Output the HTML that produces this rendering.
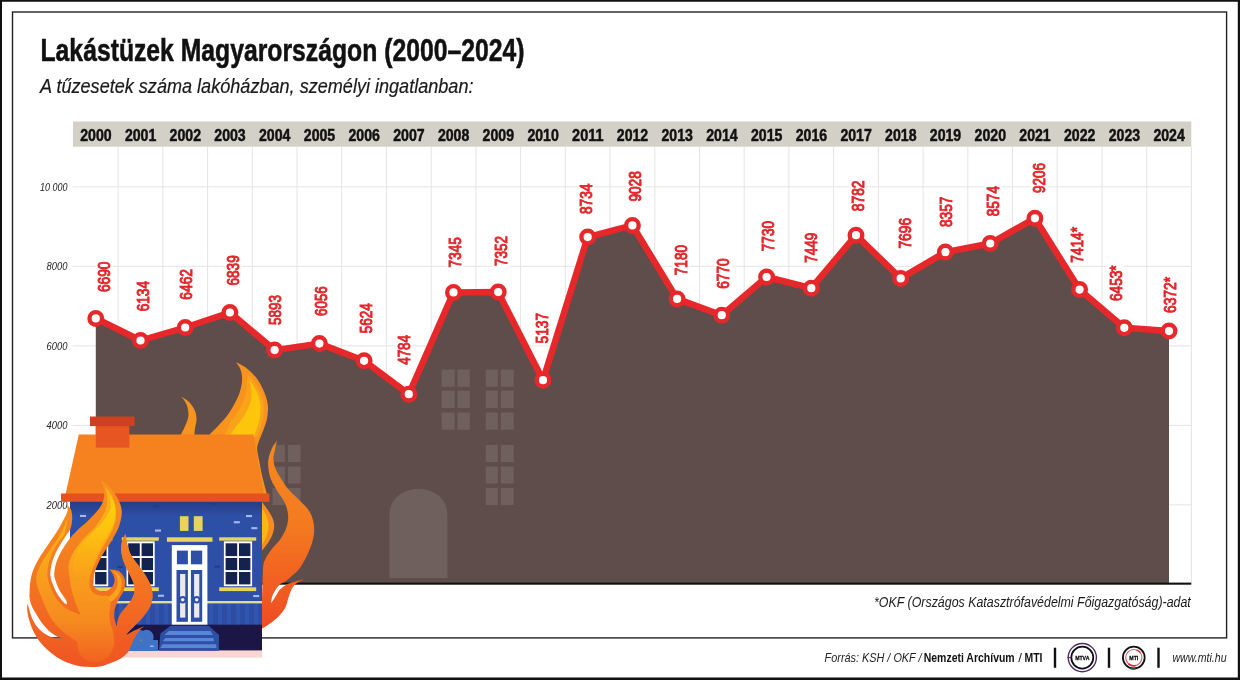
<!DOCTYPE html>
<html lang="hu">
<head>
<meta charset="utf-8">
<title>Lakástüzek Magyarországon (2000–2024)</title>
<style>
html,body{margin:0;padding:0;background:#fff;}
body{width:1240px;height:680px;overflow:hidden;font-family:"Liberation Sans",Arial,Helvetica,sans-serif;}
svg{display:block;}
text{font-family:"Liberation Sans",Arial,Helvetica,sans-serif;}
</style>
</head>
<body>
<svg width="1240" height="680" viewBox="0 0 1240 680">
<rect x="0" y="0" width="1240" height="680" fill="#fff"/>
<!-- frames -->
<path d="M0,0H1240V680H0Z M2,1.8V677.6H1237.8V1.8Z" fill="#111" fill-rule="evenodd"/>
<rect x="12.5" y="12" width="1214.1" height="625.9" fill="none" stroke="#222" stroke-width="1.4"/>

<text x="40.5" y="60.6" font-size="31.5" font-weight="700" fill="#111" stroke="#111" stroke-width="0.55" textLength="484" lengthAdjust="spacingAndGlyphs">Lakástüzek Magyarországon (2000–2024)</text>
<text x="40" y="93" font-size="20" font-style="italic" fill="#1a1a1a" stroke="#1a1a1a" stroke-width="0.2" textLength="433.5" lengthAdjust="spacingAndGlyphs">A tűzesetek száma lakóházban, személyi ingatlanban:</text>
<rect x="73" y="121.5" width="1118.3" height="25.2" fill="#d3d0c8"/>
<g stroke="#e4e4e4" stroke-width="1" fill="none">
<line x1="118.1" y1="147" x2="118.1" y2="583"/>
<line x1="162.8" y1="147" x2="162.8" y2="583"/>
<line x1="207.6" y1="147" x2="207.6" y2="583"/>
<line x1="252.3" y1="147" x2="252.3" y2="583"/>
<line x1="297.0" y1="147" x2="297.0" y2="583"/>
<line x1="341.7" y1="147" x2="341.7" y2="583"/>
<line x1="386.4" y1="147" x2="386.4" y2="583"/>
<line x1="431.2" y1="147" x2="431.2" y2="583"/>
<line x1="475.9" y1="147" x2="475.9" y2="583"/>
<line x1="520.6" y1="147" x2="520.6" y2="583"/>
<line x1="565.3" y1="147" x2="565.3" y2="583"/>
<line x1="610.0" y1="147" x2="610.0" y2="583"/>
<line x1="654.8" y1="147" x2="654.8" y2="583"/>
<line x1="699.5" y1="147" x2="699.5" y2="583"/>
<line x1="744.2" y1="147" x2="744.2" y2="583"/>
<line x1="788.9" y1="147" x2="788.9" y2="583"/>
<line x1="833.6" y1="147" x2="833.6" y2="583"/>
<line x1="878.4" y1="147" x2="878.4" y2="583"/>
<line x1="923.1" y1="147" x2="923.1" y2="583"/>
<line x1="967.8" y1="147" x2="967.8" y2="583"/>
<line x1="1012.5" y1="147" x2="1012.5" y2="583"/>
<line x1="1057.2" y1="147" x2="1057.2" y2="583"/>
<line x1="1102.0" y1="147" x2="1102.0" y2="583"/>
<line x1="1146.7" y1="147" x2="1146.7" y2="583"/>
<line x1="1191.4" y1="147" x2="1191.4" y2="583"/>
<line x1="72.5" y1="504.9" x2="1191.5" y2="504.9"/>
<line x1="72.5" y1="425.4" x2="1191.5" y2="425.4"/>
<line x1="72.5" y1="345.9" x2="1191.5" y2="345.9"/>
<line x1="72.5" y1="266.3" x2="1191.5" y2="266.3"/>
<line x1="72.5" y1="186.8" x2="1191.5" y2="186.8"/>
</g>
<text x="46.6" y="508.8" font-size="11.2" font-style="italic" fill="#222" textLength="20.8" lengthAdjust="spacingAndGlyphs">2000</text>
<text x="46.6" y="429.3" font-size="11.2" font-style="italic" fill="#222" textLength="20.8" lengthAdjust="spacingAndGlyphs">4000</text>
<text x="46.6" y="349.8" font-size="11.2" font-style="italic" fill="#222" textLength="20.8" lengthAdjust="spacingAndGlyphs">6000</text>
<text x="46.6" y="270.2" font-size="11.2" font-style="italic" fill="#222" textLength="20.8" lengthAdjust="spacingAndGlyphs">8000</text>
<text x="40.0" y="190.7" font-size="11.2" font-style="italic" fill="#222" textLength="27.4" lengthAdjust="spacingAndGlyphs">10 000</text>
<text x="80.2" y="141" font-size="16.6" font-weight="700" fill="#111" stroke="#111" stroke-width="0.5" textLength="31.4" lengthAdjust="spacingAndGlyphs">2000</text>
<text x="124.9" y="141" font-size="16.6" font-weight="700" fill="#111" stroke="#111" stroke-width="0.5" textLength="31.4" lengthAdjust="spacingAndGlyphs">2001</text>
<text x="169.6" y="141" font-size="16.6" font-weight="700" fill="#111" stroke="#111" stroke-width="0.5" textLength="31.4" lengthAdjust="spacingAndGlyphs">2002</text>
<text x="214.3" y="141" font-size="16.6" font-weight="700" fill="#111" stroke="#111" stroke-width="0.5" textLength="31.4" lengthAdjust="spacingAndGlyphs">2003</text>
<text x="259.0" y="141" font-size="16.6" font-weight="700" fill="#111" stroke="#111" stroke-width="0.5" textLength="31.4" lengthAdjust="spacingAndGlyphs">2004</text>
<text x="303.8" y="141" font-size="16.6" font-weight="700" fill="#111" stroke="#111" stroke-width="0.5" textLength="31.4" lengthAdjust="spacingAndGlyphs">2005</text>
<text x="348.5" y="141" font-size="16.6" font-weight="700" fill="#111" stroke="#111" stroke-width="0.5" textLength="31.4" lengthAdjust="spacingAndGlyphs">2006</text>
<text x="393.2" y="141" font-size="16.6" font-weight="700" fill="#111" stroke="#111" stroke-width="0.5" textLength="31.4" lengthAdjust="spacingAndGlyphs">2007</text>
<text x="437.9" y="141" font-size="16.6" font-weight="700" fill="#111" stroke="#111" stroke-width="0.5" textLength="31.4" lengthAdjust="spacingAndGlyphs">2008</text>
<text x="482.6" y="141" font-size="16.6" font-weight="700" fill="#111" stroke="#111" stroke-width="0.5" textLength="31.4" lengthAdjust="spacingAndGlyphs">2009</text>
<text x="527.4" y="141" font-size="16.6" font-weight="700" fill="#111" stroke="#111" stroke-width="0.5" textLength="31.4" lengthAdjust="spacingAndGlyphs">2010</text>
<text x="572.1" y="141" font-size="16.6" font-weight="700" fill="#111" stroke="#111" stroke-width="0.5" textLength="31.4" lengthAdjust="spacingAndGlyphs">2011</text>
<text x="616.8" y="141" font-size="16.6" font-weight="700" fill="#111" stroke="#111" stroke-width="0.5" textLength="31.4" lengthAdjust="spacingAndGlyphs">2012</text>
<text x="661.5" y="141" font-size="16.6" font-weight="700" fill="#111" stroke="#111" stroke-width="0.5" textLength="31.4" lengthAdjust="spacingAndGlyphs">2013</text>
<text x="706.2" y="141" font-size="16.6" font-weight="700" fill="#111" stroke="#111" stroke-width="0.5" textLength="31.4" lengthAdjust="spacingAndGlyphs">2014</text>
<text x="751.0" y="141" font-size="16.6" font-weight="700" fill="#111" stroke="#111" stroke-width="0.5" textLength="31.4" lengthAdjust="spacingAndGlyphs">2015</text>
<text x="795.7" y="141" font-size="16.6" font-weight="700" fill="#111" stroke="#111" stroke-width="0.5" textLength="31.4" lengthAdjust="spacingAndGlyphs">2016</text>
<text x="840.4" y="141" font-size="16.6" font-weight="700" fill="#111" stroke="#111" stroke-width="0.5" textLength="31.4" lengthAdjust="spacingAndGlyphs">2017</text>
<text x="885.1" y="141" font-size="16.6" font-weight="700" fill="#111" stroke="#111" stroke-width="0.5" textLength="31.4" lengthAdjust="spacingAndGlyphs">2018</text>
<text x="929.8" y="141" font-size="16.6" font-weight="700" fill="#111" stroke="#111" stroke-width="0.5" textLength="31.4" lengthAdjust="spacingAndGlyphs">2019</text>
<text x="974.6" y="141" font-size="16.6" font-weight="700" fill="#111" stroke="#111" stroke-width="0.5" textLength="31.4" lengthAdjust="spacingAndGlyphs">2020</text>
<text x="1019.3" y="141" font-size="16.6" font-weight="700" fill="#111" stroke="#111" stroke-width="0.5" textLength="31.4" lengthAdjust="spacingAndGlyphs">2021</text>
<text x="1064.0" y="141" font-size="16.6" font-weight="700" fill="#111" stroke="#111" stroke-width="0.5" textLength="31.4" lengthAdjust="spacingAndGlyphs">2022</text>
<text x="1108.7" y="141" font-size="16.6" font-weight="700" fill="#111" stroke="#111" stroke-width="0.5" textLength="31.4" lengthAdjust="spacingAndGlyphs">2023</text>
<text x="1153.4" y="141" font-size="16.6" font-weight="700" fill="#111" stroke="#111" stroke-width="0.5" textLength="31.4" lengthAdjust="spacingAndGlyphs">2024</text>
<polygon points="95.8,583 95.8,318.4 140.5,340.5 185.2,327.5 229.9,312.5 274.6,350.1 319.4,343.6 364.1,360.8 408.8,394.2 453.5,292.4 498.2,292.1 543.0,380.2 587.7,237.1 632.4,225.4 677.1,298.9 721.8,315.2 766.6,277.0 811.3,288.2 856.0,235.2 900.7,278.4 945.4,252.1 990.2,243.5 1034.9,218.3 1079.6,289.6 1124.3,327.8 1169.0,331.1 1169.0,583" fill="#5e4d4a"/>
<g fill="#6f605d">
<rect x="441.6" y="369.5" width="13.1" height="17.3"/><rect x="457.4" y="369.5" width="12.4" height="17.3"/>
<rect x="441.6" y="390.6" width="13.1" height="17.5"/><rect x="457.4" y="390.6" width="12.4" height="17.5"/>
<rect x="441.6" y="412.5" width="13.1" height="17.3"/><rect x="457.4" y="412.5" width="12.4" height="17.3"/>
<rect x="485.7" y="369.5" width="12.2" height="17.3"/><rect x="500.8" y="369.5" width="12.9" height="17.3"/>
<rect x="485.7" y="390.6" width="12.2" height="17.5"/><rect x="500.8" y="390.6" width="12.9" height="17.5"/>
<rect x="485.7" y="412.5" width="12.2" height="17.3"/><rect x="500.8" y="412.5" width="12.9" height="17.3"/>
<rect x="485.7" y="444.9" width="12.2" height="17.2"/><rect x="500.8" y="444.9" width="12.9" height="17.2"/>
<rect x="485.7" y="466.5" width="12.2" height="17"/><rect x="500.8" y="466.5" width="12.9" height="17"/>
<rect x="485.7" y="487.9" width="12.2" height="17.2"/><rect x="500.8" y="487.9" width="12.9" height="17.2"/>
<rect x="272.5" y="444.9" width="12.4" height="17.2"/><rect x="288" y="444.9" width="12.5" height="17.2"/>
<rect x="272.5" y="466.5" width="12.4" height="17"/><rect x="288" y="466.5" width="12.5" height="17"/>
<rect x="272.5" y="487.9" width="12.4" height="17.2"/><rect x="288" y="487.9" width="12.5" height="17.2"/>
<path d="M389.4,578 V516 C389.4,498 403,489 418.5,489 C434,489 447.5,498 447.5,516 V578 Z"/>
</g>

<rect x="95" y="582.6" width="1096.3" height="2.1" fill="#111"/>
<rect x="95.8" y="259.5" width="17" height="34.5" fill="#fff"/>
<rect x="134.5" y="279.0" width="17" height="34.3" fill="#fff"/>
<rect x="177.5" y="267.0" width="17" height="34.7" fill="#fff"/>
<rect x="224.5" y="253.3" width="17" height="34.2" fill="#fff"/>
<rect x="267.0" y="293.0" width="17" height="34.0" fill="#fff"/>
<rect x="312.3" y="284.2" width="17" height="33.8" fill="#fff"/>
<rect x="357.3" y="301.3" width="17" height="33.9" fill="#fff"/>
<rect x="395.5" y="333.0" width="17" height="33.8" fill="#fff"/>
<rect x="446.3" y="235.2" width="17" height="34.2" fill="#fff"/>
<rect x="492.8" y="234.0" width="17" height="34.1" fill="#fff"/>
<rect x="533.9" y="311.0" width="17" height="34.4" fill="#fff"/>
<rect x="577.5" y="181.5" width="17" height="34.5" fill="#fff"/>
<rect x="626.2" y="169.2" width="17" height="34.4" fill="#fff"/>
<rect x="672.1" y="243.0" width="17" height="34.2" fill="#fff"/>
<rect x="714.7" y="256.4" width="17" height="34.4" fill="#fff"/>
<rect x="759.9" y="219.0" width="17" height="34.2" fill="#fff"/>
<rect x="802.5" y="230.6" width="17" height="34.2" fill="#fff"/>
<rect x="849.5" y="178.5" width="17" height="34.7" fill="#fff"/>
<rect x="896.1" y="215.9" width="17" height="34.7" fill="#fff"/>
<rect x="937.5" y="194.5" width="17" height="34.5" fill="#fff"/>
<rect x="984.5" y="184.0" width="17" height="34.3" fill="#fff"/>
<rect x="1031.0" y="161.0" width="17" height="34.0" fill="#fff"/>
<rect x="1068.5" y="225.0" width="17" height="39.8" fill="#fff"/>
<rect x="1107.1" y="263.4" width="17" height="39.6" fill="#fff"/>
<rect x="1161.3" y="275.0" width="17" height="40.0" fill="#fff"/>
<polyline points="95.8,318.4 140.5,340.5 185.2,327.5 229.9,312.5 274.6,350.1 319.4,343.6 364.1,360.8 408.8,394.2 453.5,292.4 498.2,292.1 543.0,380.2 587.7,237.1 632.4,225.4 677.1,298.9 721.8,315.2 766.6,277.0 811.3,288.2 856.0,235.2 900.7,278.4 945.4,252.1 990.2,243.5 1034.9,218.3 1079.6,289.6 1124.3,327.8 1169.0,331.1" fill="none" stroke="#e7282b" stroke-width="6.5" stroke-linejoin="round" stroke-linecap="round"/>
<circle cx="95.8" cy="318.4" r="6.3" fill="#fff" stroke="#e7282b" stroke-width="4.4"/>
<circle cx="140.5" cy="340.5" r="6.3" fill="#fff" stroke="#e7282b" stroke-width="4.4"/>
<circle cx="185.2" cy="327.5" r="6.3" fill="#fff" stroke="#e7282b" stroke-width="4.4"/>
<circle cx="229.9" cy="312.5" r="6.3" fill="#fff" stroke="#e7282b" stroke-width="4.4"/>
<circle cx="274.6" cy="350.1" r="6.3" fill="#fff" stroke="#e7282b" stroke-width="4.4"/>
<circle cx="319.4" cy="343.6" r="6.3" fill="#fff" stroke="#e7282b" stroke-width="4.4"/>
<circle cx="364.1" cy="360.8" r="6.3" fill="#fff" stroke="#e7282b" stroke-width="4.4"/>
<circle cx="408.8" cy="394.2" r="6.3" fill="#fff" stroke="#e7282b" stroke-width="4.4"/>
<circle cx="453.5" cy="292.4" r="6.3" fill="#fff" stroke="#e7282b" stroke-width="4.4"/>
<circle cx="498.2" cy="292.1" r="6.3" fill="#fff" stroke="#e7282b" stroke-width="4.4"/>
<circle cx="543.0" cy="380.2" r="6.3" fill="#fff" stroke="#e7282b" stroke-width="4.4"/>
<circle cx="587.7" cy="237.1" r="6.3" fill="#fff" stroke="#e7282b" stroke-width="4.4"/>
<circle cx="632.4" cy="225.4" r="6.3" fill="#fff" stroke="#e7282b" stroke-width="4.4"/>
<circle cx="677.1" cy="298.9" r="6.3" fill="#fff" stroke="#e7282b" stroke-width="4.4"/>
<circle cx="721.8" cy="315.2" r="6.3" fill="#fff" stroke="#e7282b" stroke-width="4.4"/>
<circle cx="766.6" cy="277.0" r="6.3" fill="#fff" stroke="#e7282b" stroke-width="4.4"/>
<circle cx="811.3" cy="288.2" r="6.3" fill="#fff" stroke="#e7282b" stroke-width="4.4"/>
<circle cx="856.0" cy="235.2" r="6.3" fill="#fff" stroke="#e7282b" stroke-width="4.4"/>
<circle cx="900.7" cy="278.4" r="6.3" fill="#fff" stroke="#e7282b" stroke-width="4.4"/>
<circle cx="945.4" cy="252.1" r="6.3" fill="#fff" stroke="#e7282b" stroke-width="4.4"/>
<circle cx="990.2" cy="243.5" r="6.3" fill="#fff" stroke="#e7282b" stroke-width="4.4"/>
<circle cx="1034.9" cy="218.3" r="6.3" fill="#fff" stroke="#e7282b" stroke-width="4.4"/>
<circle cx="1079.6" cy="289.6" r="6.3" fill="#fff" stroke="#e7282b" stroke-width="4.4"/>
<circle cx="1124.3" cy="327.8" r="6.3" fill="#fff" stroke="#e7282b" stroke-width="4.4"/>
<circle cx="1169.0" cy="331.1" r="6.3" fill="#fff" stroke="#e7282b" stroke-width="4.4"/>
<text transform="translate(110.2,292.0) rotate(-90)" font-size="16.4" fill="#e3282c" stroke="#e3282c" stroke-width="1" textLength="30.5" lengthAdjust="spacingAndGlyphs">6690</text>
<text transform="translate(148.9,311.3) rotate(-90)" font-size="16.4" fill="#e3282c" stroke="#e3282c" stroke-width="1" textLength="30.3" lengthAdjust="spacingAndGlyphs">6134</text>
<text transform="translate(191.9,299.7) rotate(-90)" font-size="16.4" fill="#e3282c" stroke="#e3282c" stroke-width="1" textLength="30.7" lengthAdjust="spacingAndGlyphs">6462</text>
<text transform="translate(238.9,285.5) rotate(-90)" font-size="16.4" fill="#e3282c" stroke="#e3282c" stroke-width="1" textLength="30.2" lengthAdjust="spacingAndGlyphs">6839</text>
<text transform="translate(281.4,325.0) rotate(-90)" font-size="16.4" fill="#e3282c" stroke="#e3282c" stroke-width="1" textLength="30.0" lengthAdjust="spacingAndGlyphs">5893</text>
<text transform="translate(326.7,316.0) rotate(-90)" font-size="16.4" fill="#e3282c" stroke="#e3282c" stroke-width="1" textLength="29.8" lengthAdjust="spacingAndGlyphs">6056</text>
<text transform="translate(371.7,333.2) rotate(-90)" font-size="16.4" fill="#e3282c" stroke="#e3282c" stroke-width="1" textLength="29.9" lengthAdjust="spacingAndGlyphs">5624</text>
<text transform="translate(409.9,364.8) rotate(-90)" font-size="16.4" fill="#e3282c" stroke="#e3282c" stroke-width="1" textLength="29.8" lengthAdjust="spacingAndGlyphs">4784</text>
<text transform="translate(460.7,267.4) rotate(-90)" font-size="16.4" fill="#e3282c" stroke="#e3282c" stroke-width="1" textLength="30.2" lengthAdjust="spacingAndGlyphs">7345</text>
<text transform="translate(507.2,266.1) rotate(-90)" font-size="16.4" fill="#e3282c" stroke="#e3282c" stroke-width="1" textLength="30.1" lengthAdjust="spacingAndGlyphs">7352</text>
<text transform="translate(548.3,343.4) rotate(-90)" font-size="16.4" fill="#e3282c" stroke="#e3282c" stroke-width="1" textLength="30.4" lengthAdjust="spacingAndGlyphs">5137</text>
<text transform="translate(591.9,214.0) rotate(-90)" font-size="16.4" fill="#e3282c" stroke="#e3282c" stroke-width="1" textLength="30.5" lengthAdjust="spacingAndGlyphs">8734</text>
<text transform="translate(640.6,201.6) rotate(-90)" font-size="16.4" fill="#e3282c" stroke="#e3282c" stroke-width="1" textLength="30.4" lengthAdjust="spacingAndGlyphs">9028</text>
<text transform="translate(686.5,275.2) rotate(-90)" font-size="16.4" fill="#e3282c" stroke="#e3282c" stroke-width="1" textLength="30.2" lengthAdjust="spacingAndGlyphs">7180</text>
<text transform="translate(729.1,288.8) rotate(-90)" font-size="16.4" fill="#e3282c" stroke="#e3282c" stroke-width="1" textLength="30.4" lengthAdjust="spacingAndGlyphs">6770</text>
<text transform="translate(774.3,251.2) rotate(-90)" font-size="16.4" fill="#e3282c" stroke="#e3282c" stroke-width="1" textLength="30.2" lengthAdjust="spacingAndGlyphs">7730</text>
<text transform="translate(816.9,262.8) rotate(-90)" font-size="16.4" fill="#e3282c" stroke="#e3282c" stroke-width="1" textLength="30.2" lengthAdjust="spacingAndGlyphs">7449</text>
<text transform="translate(863.9,211.2) rotate(-90)" font-size="16.4" fill="#e3282c" stroke="#e3282c" stroke-width="1" textLength="30.7" lengthAdjust="spacingAndGlyphs">8782</text>
<text transform="translate(910.5,248.6) rotate(-90)" font-size="16.4" fill="#e3282c" stroke="#e3282c" stroke-width="1" textLength="30.7" lengthAdjust="spacingAndGlyphs">7696</text>
<text transform="translate(951.9,227.0) rotate(-90)" font-size="16.4" fill="#e3282c" stroke="#e3282c" stroke-width="1" textLength="30.5" lengthAdjust="spacingAndGlyphs">8357</text>
<text transform="translate(998.9,216.3) rotate(-90)" font-size="16.4" fill="#e3282c" stroke="#e3282c" stroke-width="1" textLength="30.3" lengthAdjust="spacingAndGlyphs">8574</text>
<text transform="translate(1045.4,193.0) rotate(-90)" font-size="16.4" fill="#e3282c" stroke="#e3282c" stroke-width="1" textLength="30.0" lengthAdjust="spacingAndGlyphs">9206</text>
<text transform="translate(1082.9,262.8) rotate(-90)" font-size="16.4" fill="#e3282c" stroke="#e3282c" stroke-width="1" textLength="35.8" lengthAdjust="spacingAndGlyphs">7414*</text>
<text transform="translate(1121.5,301.0) rotate(-90)" font-size="16.4" fill="#e3282c" stroke="#e3282c" stroke-width="1" textLength="35.6" lengthAdjust="spacingAndGlyphs">6453*</text>
<text transform="translate(1175.7,313.0) rotate(-90)" font-size="16.4" fill="#e3282c" stroke="#e3282c" stroke-width="1" textLength="36.0" lengthAdjust="spacingAndGlyphs">6372*</text>
<text x="874" y="606.5" font-size="14.8" font-style="italic" fill="#1c1c1c" textLength="316.8" lengthAdjust="spacingAndGlyphs">*OKF (Országos Katasztrófavédelmi Főigazgatóság)-adat</text>
<defs>
<linearGradient id="gSil" gradientUnits="userSpaceOnUse" x1="0" y1="480" x2="0" y2="668">
<stop offset="0" stop-color="#f7931e"/><stop offset="0.42" stop-color="#f47d20"/><stop offset="0.75" stop-color="#f26722"/><stop offset="1" stop-color="#ef5423"/></linearGradient>
<linearGradient id="gCore" gradientUnits="userSpaceOnUse" x1="0" y1="486" x2="0" y2="665">
<stop offset="0" stop-color="#fbb216"/><stop offset="0.4" stop-color="#faa61a"/><stop offset="0.75" stop-color="#f68b1f"/><stop offset="1" stop-color="#f15f22"/></linearGradient>
<linearGradient id="gSec" gradientUnits="userSpaceOnUse" x1="0" y1="534" x2="0" y2="660">
<stop offset="0" stop-color="#f58220"/><stop offset="0.5" stop-color="#f36f21"/><stop offset="1" stop-color="#ef5423"/></linearGradient>
<linearGradient id="gRight" gradientUnits="userSpaceOnUse" x1="0" y1="440" x2="0" y2="630">
<stop offset="0" stop-color="#f6891f"/><stop offset="0.45" stop-color="#f47a20"/><stop offset="0.75" stop-color="#f15f22"/><stop offset="1" stop-color="#ee4b23"/></linearGradient>
<linearGradient id="gWall" gradientUnits="userSpaceOnUse" x1="0" y1="501.8" x2="0" y2="516">
<stop offset="0" stop-color="#253d86"/><stop offset="1" stop-color="#2d4fa6"/></linearGradient>
<linearGradient id="gYel" gradientUnits="userSpaceOnUse" x1="0" y1="496" x2="0" y2="580"><stop offset="0" stop-color="#fdd20a"/><stop offset="0.45" stop-color="#fdc40e" stop-opacity="0.9"/><stop offset="1" stop-color="#fbab18" stop-opacity="0"/></linearGradient>
</defs>
<g id="house">
<path d="M235.9,362.1C237.7,363.1 243.0,365.5 246.5,368.2C250.0,370.9 253.9,374.6 256.8,378.5C259.7,382.4 262.3,387.4 264.1,391.8C265.9,396.2 267.3,400.6 267.8,405.0C268.3,409.4 267.8,414.0 267.1,418.2C266.4,422.4 264.9,425.8 263.4,430.0C261.9,434.2 259.2,439.9 258.2,443.2C257.2,446.5 257.0,446.9 257.2,450.0C257.4,453.1 258.7,457.9 259.4,461.8C260.1,465.7 260.6,469.1 261.6,473.5C262.6,477.9 264.4,484.8 265.3,488.2C266.2,491.6 266.6,493.0 266.8,494.0C263.2,494.0 248.6,494.0 245.0,494.0C240.0,485.8 220.0,453.2 215.0,445.0C214.1,443.2 210.6,436.2 209.7,434.4C211.2,432.9 215.6,428.8 218.5,425.6C221.4,422.4 224.7,419.0 227.4,415.3C230.1,411.6 232.6,407.4 234.7,403.5C236.8,399.6 238.7,395.7 239.9,391.8C241.1,387.9 242.0,383.7 242.1,380.0C242.2,376.3 241.6,372.7 240.6,369.7C239.6,366.7 236.7,363.4 235.9,362.1Z" fill="#f7931e"/>
<path d="M246.5,374.1C247.8,375.5 252.3,379.0 254.6,382.2C256.9,385.4 258.9,389.4 260.4,393.2C261.9,397.0 263.4,400.8 263.8,405.0C264.2,409.2 263.8,414.0 263.1,418.2C262.4,422.4 260.6,426.9 259.7,430.0C258.8,433.1 257.9,435.8 257.5,437.0C252.0,437.0 229.9,437.0 224.4,437.0C225.4,434.6 227.9,427.2 230.3,422.6C232.8,418.0 236.7,413.8 239.1,409.4C241.5,405.0 243.7,400.4 245.0,396.2C246.3,392.0 246.9,388.1 247.2,384.4C247.4,380.7 246.6,375.8 246.5,374.1Z" fill="#f9a31a"/>
<path d="M249.4,380.0C250.6,382.0 255.0,387.6 256.8,391.8C258.6,396.0 259.9,400.6 260.4,405.0C260.9,409.4 260.3,414.3 259.7,418.2C259.1,422.1 257.8,425.4 256.8,428.5C255.8,431.6 254.3,435.6 253.8,437.0C249.6,437.0 233.0,437.0 228.8,437.0C229.8,435.6 232.2,431.9 234.7,428.5C237.1,425.1 240.9,421.0 243.5,416.8C246.1,412.6 248.8,407.7 250.1,403.5C251.4,399.3 251.7,395.7 251.6,391.8C251.5,387.9 249.8,382.0 249.4,380.0Z" fill="#fdc60d"/>
<path d="M181.0,396.2C182.3,397.2 186.8,399.7 189.1,402.1C191.4,404.6 193.8,408.0 195.0,410.9C196.2,413.8 196.5,416.8 196.5,419.7C196.5,422.6 195.4,425.6 195.0,428.5C194.6,431.4 194.4,435.6 194.3,437.0C191.9,437.0 182.1,437.0 179.6,437.0C180.3,435.6 182.7,431.4 184.0,428.5C185.3,425.6 186.9,422.4 187.6,419.7C188.3,417.0 188.6,415.1 188.4,412.4C188.2,409.7 187.4,406.2 186.2,403.5C185.0,400.8 181.9,397.4 181.0,396.2Z" fill="#f7931e"/>
<path d="M277.0,440.4C276.6,442.0 275.5,446.9 274.9,450.0C274.3,453.1 273.3,455.6 273.4,458.8C273.5,462.0 274.2,465.7 275.6,469.1C277.0,472.5 279.3,476.0 281.5,479.4C283.7,482.8 285.9,486.3 288.8,489.7C291.7,493.1 295.6,496.2 299.1,500.0C302.7,503.8 307.6,507.9 310.1,512.4C312.6,516.9 313.7,522.2 314.1,527.1C314.5,532.0 313.7,536.9 312.4,541.8C311.1,546.7 308.6,552.1 306.5,556.5C304.4,560.9 302.0,565.1 299.7,568.2C297.4,571.3 295.0,573.1 292.6,575.3C290.2,577.5 287.7,579.7 285.6,581.2C283.6,582.7 281.9,582.7 280.3,584.1C278.7,585.5 277.2,587.3 275.8,589.4C274.4,591.5 273.0,594.1 272.2,596.5C271.4,598.9 271.1,602.3 270.9,603.5C271.6,602.5 273.5,599.8 274.9,597.6C276.3,595.5 277.7,592.5 279.2,590.6C280.7,588.7 282.1,587.4 283.8,586.2C285.5,585.0 287.0,584.3 289.1,583.5C291.2,582.7 293.8,581.9 296.2,581.2C298.6,580.5 302.5,579.7 303.8,579.4C302.5,580.1 298.2,581.8 296.2,583.5C294.1,585.2 292.8,587.0 291.5,589.4C290.2,591.8 289.5,594.7 288.5,597.6C287.5,600.5 287.1,604.0 285.6,607.0C284.1,610.0 282.1,612.7 279.7,615.3C277.3,617.9 274.4,620.2 271.5,622.4C268.6,624.6 263.6,627.6 262.0,628.6C262.0,623.8 262.0,604.8 262.0,600.0C262.2,594.7 262.6,575.0 263.1,568.2C263.7,561.4 263.8,562.6 265.3,559.4C266.8,556.2 269.3,552.5 271.9,549.1C274.5,545.7 278.2,542.5 280.7,538.8C283.1,535.1 285.4,531.0 286.6,527.1C287.8,523.2 288.4,519.2 288.1,515.3C287.9,511.4 286.8,507.4 285.1,503.5C283.4,499.6 280.1,495.7 277.8,491.8C275.5,487.9 272.8,483.8 271.2,480.0C269.6,476.2 268.9,472.6 268.5,469.1C268.1,465.6 267.9,462.2 268.5,458.8C269.1,455.4 270.5,451.6 271.9,448.5C273.3,445.4 276.1,441.8 277.0,440.4Z" fill="url(#gRight)"/>
<path d="M262.0,502.0C262.9,503.2 265.9,506.9 267.5,509.4C269.1,511.9 270.8,514.3 271.9,516.8C273.0,519.2 273.9,521.6 274.1,524.1C274.4,526.6 274.1,528.8 273.4,531.5C272.7,534.2 271.2,537.6 269.7,540.3C268.2,543.0 265.9,545.9 264.6,547.6C263.3,549.3 262.4,550.1 262.0,550.6C262.0,542.5 262.0,510.1 262.0,502.0Z" fill="#f68b1f"/>
<path d="M262.0,508.0C262.7,509.2 264.9,512.6 266.0,515.3C267.1,518.0 268.2,521.2 268.5,524.1C268.8,527.0 268.3,530.0 267.5,532.9C266.7,535.8 264.7,539.8 263.8,541.8C262.9,543.8 262.3,544.2 262.0,544.7C262.0,538.6 262.0,514.1 262.0,508.0Z" fill="#fbb615"/>
<polygon points="78.8,434.6 253.5,434.6 263.8,494 65.6,494" fill="#f5821f"/>
<rect x="95.8" y="425" width="33.6" height="22.6" fill="#e65522"/>
<rect x="90" y="416.5" width="44.6" height="9.6" fill="#cd4122"/>
<rect x="70" y="500.5" width="192" height="124.5" fill="#2d4fa6"/>
<rect x="70" y="500.5" width="192" height="15.5" fill="url(#gWall)"/>
<rect x="61" y="493.5" width="208.4" height="8.3" fill="#e8501f"/>
<rect x="70" y="603.4" width="192" height="21.4" fill="#2c4da3"/>
<g fill="#3056af"><rect x="74" y="603.4" width="4" height="21.4"/><rect x="83" y="603.4" width="4" height="21.4"/><rect x="92" y="603.4" width="4" height="21.4"/><rect x="101" y="603.4" width="4" height="21.4"/><rect x="110" y="603.4" width="4" height="21.4"/><rect x="119" y="603.4" width="4" height="21.4"/><rect x="128" y="603.4" width="4" height="21.4"/><rect x="137" y="603.4" width="4" height="21.4"/><rect x="146" y="603.4" width="4" height="21.4"/><rect x="155" y="603.4" width="4" height="21.4"/><rect x="164" y="603.4" width="4" height="21.4"/><rect x="173" y="603.4" width="4" height="21.4"/><rect x="182" y="603.4" width="4" height="21.4"/><rect x="191" y="603.4" width="4" height="21.4"/><rect x="200" y="603.4" width="4" height="21.4"/><rect x="209" y="603.4" width="4" height="21.4"/><rect x="218" y="603.4" width="4" height="21.4"/><rect x="227" y="603.4" width="4" height="21.4"/><rect x="236" y="603.4" width="4" height="21.4"/><rect x="245" y="603.4" width="4" height="21.4"/><rect x="254" y="603.4" width="4" height="21.4"/></g>
<rect x="70" y="601" width="192" height="2.4" fill="#d9dba3"/>
<g fill="#a9b9e6"><rect x="80" y="514.9" width="6" height="2.1"/><rect x="155" y="529.5" width="6" height="2.1"/><rect x="233.8" y="521.2" width="6" height="2.1"/><rect x="246" y="515" width="6" height="2.1"/><rect x="251.3" y="527.1" width="6" height="2.1"/><rect x="158" y="594.7" width="6" height="2.1"/><rect x="253.2" y="595" width="6" height="2.1"/></g>
<g fill="#223b82"><rect x="153.7" y="505.4" width="5.5" height="1.8"/><rect x="211.8" y="503" width="5.5" height="1.8"/><rect x="214.7" y="565.7" width="5.5" height="1.8"/><rect x="117.6" y="566.1" width="5.5" height="1.8"/></g>
<rect x="80" y="541.3" width="28.2" height="44.9" fill="#fff"/><rect x="81.7" y="543.3" width="11.6" height="12.8" fill="#14224f"/><rect x="81.7" y="558" width="11.6" height="12.1" fill="#14224f"/><rect x="81.7" y="572" width="11.6" height="12.4" fill="#14224f"/><rect x="95.1" y="543.3" width="11.4" height="12.8" fill="#14224f"/><rect x="95.1" y="558" width="11.4" height="12.1" fill="#14224f"/><rect x="95.1" y="572" width="11.4" height="12.4" fill="#14224f"/><rect x="75.3" y="537.3" width="37" height="3.4" fill="#e8d45c"/><rect x="75.3" y="587.3" width="37" height="3.8" fill="#e8d45c"/>
<rect x="126.5" y="541.3" width="28.2" height="44.9" fill="#fff"/><rect x="128.2" y="543.3" width="11.6" height="12.8" fill="#14224f"/><rect x="128.2" y="558" width="11.6" height="12.1" fill="#14224f"/><rect x="128.2" y="572" width="11.6" height="12.4" fill="#14224f"/><rect x="141.6" y="543.3" width="11.4" height="12.8" fill="#14224f"/><rect x="141.6" y="558" width="11.4" height="12.1" fill="#14224f"/><rect x="141.6" y="572" width="11.4" height="12.4" fill="#14224f"/><rect x="121.8" y="537.3" width="37" height="3.4" fill="#e8d45c"/><rect x="121.8" y="587.3" width="37" height="3.8" fill="#e8d45c"/>
<rect x="223.9" y="541.3" width="28.2" height="44.9" fill="#fff"/><rect x="225.6" y="543.3" width="11.6" height="12.8" fill="#14224f"/><rect x="225.6" y="558" width="11.6" height="12.1" fill="#14224f"/><rect x="225.6" y="572" width="11.6" height="12.4" fill="#14224f"/><rect x="239.0" y="543.3" width="11.4" height="12.8" fill="#14224f"/><rect x="239.0" y="558" width="11.4" height="12.1" fill="#14224f"/><rect x="239.0" y="572" width="11.4" height="12.4" fill="#14224f"/><rect x="219.2" y="537.3" width="37" height="3.4" fill="#e8d45c"/><rect x="219.2" y="587.3" width="37" height="3.8" fill="#e8d45c"/>
<rect x="166.9" y="537.3" width="45.6" height="4.5" fill="#e8d45c"/>
<rect x="179.9" y="516.2" width="8.6" height="14.7" fill="#e8d45c"/><rect x="193.8" y="516.2" width="8.8" height="14.7" fill="#e8d45c"/>
<rect x="171.8" y="545.1" width="35.6" height="81" fill="#fff"/>
<g fill="#2d4fa6"><rect x="176.9" y="550.6" width="11" height="13.7"/><rect x="190.9" y="550.6" width="11.3" height="13.7"/><rect x="176.5" y="570" width="11.4" height="51.8"/><rect x="190.9" y="570" width="11.3" height="51.8"/></g>
<g fill="#ece7f3"><rect x="180.1" y="574" width="5.2" height="43.6"/><rect x="194.1" y="574" width="5.2" height="43.6"/></g>
<g fill="#2d4fa6"><circle cx="182.7" cy="599.7" r="3.7"/><circle cx="196.7" cy="599.7" r="3.7"/></g>
<g fill="#ece7f3"><circle cx="182.7" cy="599.7" r="1.8"/><circle cx="196.7" cy="599.7" r="1.8"/></g>
<rect x="70" y="624.7" width="192" height="26" fill="#1b1645"/>
<rect x="100" y="650.6" width="162" height="7" fill="#f9d6d1"/>
<g fill="#4272c6"><circle cx="138" cy="639" r="9.5"/><circle cx="146.5" cy="637" r="7.2"/><circle cx="152.5" cy="645.5" r="5.6"/><rect x="126" y="640" width="32" height="11"/></g>
<rect x="150" y="645.5" width="3.6" height="1.5" fill="#9db8e8"/><rect x="139.5" y="639.5" width="2.6" height="1.6" fill="#5f8f7a"/>
<polygon points="170.6,625.8 208.6,625.8 219,635 219,650.8 158.9,650.8 160.4,633.6" fill="#2d4fa6"/>
<g fill="#5a86d6"><polygon points="168.7,630.9 210.5,630.9 213,635 164.5,635"/><polygon points="165.6,638.1 213.5,638.1 214,641.2 162.5,641.2"/><polygon points="162.5,644.3 216,644.3 216.5,647.9 160.2,647.9"/></g>
<path d="M100.6,480.3C101.3,480.8 103.5,481.8 105.0,483.0C106.5,484.2 108.1,485.4 109.9,487.5C111.7,489.6 114.3,492.9 116.0,495.7C117.7,498.4 119.2,501.2 120.2,504.0C121.2,506.8 121.7,509.5 121.8,512.2C121.9,515.0 121.3,517.8 120.7,520.5C120.1,523.2 119.2,526.0 118.1,528.7C117.0,531.4 115.3,534.0 114.0,536.5C112.7,539.0 111.8,540.6 110.0,543.5C108.2,546.4 105.1,550.4 103.0,554.0C100.9,557.6 99.0,561.5 97.5,565.0C96.0,568.5 94.8,572.0 94.0,575.0C93.2,578.0 92.7,581.0 92.9,583.2C93.2,585.5 94.2,587.2 95.5,588.5C96.8,589.8 99.0,590.7 101.0,591.0C103.0,591.3 105.6,591.2 107.5,590.5C109.4,589.8 111.3,588.2 112.5,586.5C113.7,584.8 114.6,582.2 114.6,580.0C114.6,577.8 113.4,575.3 112.5,573.5C111.6,571.7 109.7,570.0 109.1,569.3C110.8,569.7 116.8,569.7 119.5,571.5C122.2,573.3 124.2,576.9 125.0,580.0C125.8,583.1 125.0,586.8 124.0,590.0C123.0,593.2 120.5,596.0 119.0,599.0C117.5,602.0 115.8,605.2 115.0,608.0C114.2,610.8 114.2,613.7 114.3,616.0C114.3,618.3 114.9,620.3 115.3,622.0C115.7,623.7 116.5,625.3 116.8,626.0C117.1,624.7 117.6,620.5 118.5,618.0C119.4,615.5 120.5,613.8 122.4,611.2C124.3,608.6 127.7,605.4 129.7,602.4C131.6,599.4 133.4,596.5 134.1,593.5C134.8,590.5 134.8,587.9 134.1,584.7C133.4,581.5 131.3,577.8 129.7,574.4C128.1,571.0 125.9,567.5 124.6,564.1C123.2,560.7 122.1,557.2 121.6,553.8C121.1,550.4 121.0,546.8 121.6,543.5C122.2,540.2 124.7,535.6 125.3,534.0C125.7,535.8 126.5,541.5 127.5,545.0C128.5,548.5 129.4,551.9 131.2,555.3C133.0,558.7 136.1,562.2 138.5,565.6C140.9,569.0 143.8,572.5 145.9,575.9C148.0,579.3 149.9,582.8 151.0,586.2C152.1,589.6 152.6,593.2 152.5,596.5C152.4,599.8 151.4,603.2 150.2,606.2C148.9,609.2 146.7,612.0 145.0,614.4C143.3,616.8 141.6,618.7 139.9,620.6C138.2,622.5 136.6,623.8 134.7,625.7C132.8,627.6 129.9,630.3 128.5,631.9C127.0,633.5 126.4,634.7 126.0,635.2C129.0,633.7 141.0,627.8 144.0,626.3C143.1,627.1 140.5,628.8 138.8,630.9C137.1,633.0 135.1,636.5 133.7,639.1C132.3,641.7 131.6,644.1 130.6,646.3C129.6,648.5 129.2,650.4 127.5,652.5C125.8,654.6 123.2,656.9 120.3,658.7C117.4,660.5 113.4,661.9 110.0,663.2C106.6,664.5 104.2,665.8 100.0,666.4C95.8,667.0 89.2,667.1 84.7,666.8C80.2,666.5 76.8,665.6 72.9,664.4C69.0,663.2 65.1,661.9 61.2,659.7C57.3,657.6 52.9,654.5 49.4,651.5C45.9,648.5 42.8,645.5 40.0,642.0C37.2,638.5 34.8,634.2 32.9,630.3C31.0,626.4 29.8,622.0 28.8,618.5C27.8,615.0 27.3,611.5 27.1,609.0C26.9,606.5 27.5,604.7 27.6,603.8C27.8,604.5 28.1,605.6 28.8,607.9C29.5,610.2 30.4,614.2 31.8,617.4C33.2,620.5 35.0,624.1 37.1,626.8C39.2,629.5 41.9,631.9 44.7,633.8C47.5,635.6 50.9,637.1 54.1,637.9C57.3,638.7 62.4,638.4 64.1,638.5C62.8,638.1 59.1,637.6 56.5,636.2C53.9,634.8 50.8,632.7 48.2,630.3C45.7,627.9 43.4,625.0 41.2,622.0C39.1,619.0 37.0,615.5 35.3,612.6C33.6,609.7 32.1,606.8 31.2,604.4C30.2,602.0 29.9,600.1 29.6,598.0C29.3,595.9 29.5,594.7 29.6,592.0C29.7,589.3 29.7,585.5 30.3,581.8C30.9,578.1 31.7,573.9 33.2,570.0C34.7,566.1 36.7,562.4 39.1,558.2C41.5,554.0 45.0,549.4 47.9,545.0C50.8,540.6 54.2,536.0 56.8,531.8C59.4,527.6 61.6,523.5 63.4,520.0C65.2,516.5 66.9,513.6 67.5,511.0C68.1,508.4 66.9,505.5 66.8,504.4C67.5,505.2 69.8,507.1 70.7,509.1C71.6,511.1 72.1,513.8 72.2,516.5C72.3,519.2 72.0,522.9 71.5,525.3C71.0,527.7 70.0,529.6 69.3,531.0C68.6,532.4 68.8,531.5 67.3,533.7C65.8,535.9 62.7,540.5 60.6,544.0C58.5,547.5 56.4,551.0 54.9,554.5C53.4,558.0 52.1,561.8 51.4,565.2C50.6,568.6 50.2,571.9 50.4,575.0C50.6,578.1 51.4,580.6 52.5,583.6C53.6,586.6 55.1,590.2 56.9,593.3C58.7,596.4 61.6,600.1 63.3,602.0C65.0,603.9 66.4,604.1 67.0,604.5C66.8,603.8 67.1,602.2 66.0,600.0C64.9,597.8 61.8,594.3 60.2,591.4C58.6,588.5 57.2,585.1 56.2,582.4C55.2,579.7 54.4,577.7 54.2,575.0C54.1,572.3 54.5,569.1 55.3,566.0C56.1,562.9 57.2,559.5 58.8,556.2C60.3,552.9 62.5,549.3 64.6,546.0C66.7,542.7 69.7,538.8 71.5,536.5C73.3,534.2 74.1,533.8 75.5,532.3C76.9,530.8 78.2,529.3 80.0,527.7C81.8,526.1 84.0,524.6 86.2,522.5C88.4,520.4 91.2,517.7 93.4,515.3C95.6,512.9 98.0,510.5 99.6,508.1C101.2,505.7 102.4,503.3 103.2,500.9C104.0,498.5 104.2,496.1 104.2,493.7C104.2,491.3 103.6,488.3 103.2,486.5C102.8,484.7 102.2,484.0 101.8,483.0C101.4,482.0 100.8,480.8 100.6,480.3Z" fill="url(#gSil)"/>
<path d="M105.0,486.2C106.1,487.7 109.9,491.8 111.6,495.0C113.3,498.2 114.6,501.9 115.3,505.3C116.0,508.7 116.1,512.4 116.0,515.6C115.9,518.8 115.6,521.2 114.6,524.4C113.6,527.6 111.7,531.5 110.1,534.7C108.5,537.9 106.7,540.5 105.0,543.5C103.3,546.5 101.6,549.0 99.9,552.4C98.2,555.8 96.3,560.3 94.7,564.1C93.1,567.9 91.4,571.5 90.5,575.0C89.6,578.5 89.1,582.1 89.5,585.0C89.9,587.9 91.2,590.8 93.0,592.5C94.8,594.2 97.5,594.9 100.0,595.5C102.5,596.1 106.2,594.6 108.0,596.0C109.8,597.4 110.2,601.0 110.5,604.0C110.8,607.0 109.5,610.7 109.5,614.0C109.5,617.3 109.9,621.0 110.5,624.0C111.1,627.0 112.5,628.2 113.0,632.0C113.5,635.8 114.7,642.6 113.5,647.0C112.3,651.4 109.2,655.9 106.0,658.5C102.8,661.1 97.8,662.6 94.0,662.5C90.2,662.4 85.7,660.2 83.0,658.0C80.3,655.8 78.9,651.7 78.0,649.0C77.1,646.3 77.7,643.2 77.6,642.0C76.4,641.2 73.5,639.5 70.6,637.4C67.7,635.2 63.2,632.2 60.0,629.1C56.8,626.0 53.7,622.2 51.2,618.5C48.8,614.8 47.0,610.5 45.3,606.8C43.6,603.0 42.3,599.3 41.0,596.0C39.7,592.7 38.3,590.2 37.5,587.0C36.7,583.8 36.0,580.3 36.3,577.0C36.6,573.7 38.1,570.2 39.5,567.0C40.9,563.8 42.5,561.2 44.5,558.0C46.5,554.8 49.2,551.0 51.5,547.5C53.8,544.0 56.4,540.4 58.5,537.0C60.6,533.6 62.5,530.2 64.0,527.0C65.5,523.8 67.2,519.5 67.8,518.0C67.2,520.7 66.2,529.8 64.5,534.0C62.8,538.2 59.9,539.8 57.8,543.0C55.7,546.2 53.6,549.8 52.0,553.5C50.4,557.2 49.2,561.3 48.4,565.0C47.6,568.7 47.2,572.2 47.4,575.5C47.6,578.8 48.4,581.3 49.5,584.5C50.6,587.7 52.2,591.3 54.0,594.5C55.8,597.7 58.0,600.9 60.5,603.5C63.0,606.1 65.7,608.1 69.0,610.0C72.3,611.9 78.7,613.9 80.6,614.7C79.8,612.9 77.4,608.3 75.9,604.1C74.4,599.9 72.6,594.2 71.5,589.4C70.4,584.5 69.8,578.9 69.3,575.0C68.8,571.1 68.1,569.2 68.5,566.0C68.9,562.8 70.0,559.3 71.5,556.0C73.0,552.7 75.1,549.3 77.5,546.0C79.9,542.7 83.0,539.3 85.9,536.2C88.8,533.1 92.0,530.6 94.7,527.4C97.4,524.2 100.1,520.5 102.1,517.1C104.1,513.7 105.7,510.2 106.5,506.8C107.3,503.4 107.5,499.9 107.2,496.5C107.0,493.1 105.4,487.9 105.0,486.2Z" fill="url(#gCore)"/>
<path d="M109.9,495.7C110.6,496.9 113.1,500.4 114.0,503.0C114.9,505.6 115.4,508.3 115.5,511.2C115.6,514.1 115.2,517.6 114.5,520.5C113.8,523.4 112.7,526.0 111.4,528.7C110.1,531.4 108.5,534.0 106.8,536.9C105.1,539.8 103.3,542.8 101.5,546.0C99.7,549.2 97.6,552.5 96.0,556.0C94.4,559.5 92.8,563.3 91.8,567.0C90.8,570.7 91.1,575.8 89.8,578.0C88.5,580.2 86.5,580.2 84.0,580.0C81.5,579.8 76.8,579.3 75.0,577.0C73.2,574.7 72.9,569.7 73.0,566.0C73.1,562.3 74.3,558.3 75.5,555.0C76.7,551.7 78.2,548.7 80.0,546.0C81.8,543.3 84.1,541.2 86.2,539.0C88.3,536.8 90.2,535.0 92.4,532.8C94.6,530.6 97.4,528.2 99.6,525.6C101.8,523.0 104.0,520.0 105.7,517.4C107.4,514.8 109.0,512.6 109.9,510.2C110.8,507.8 110.9,505.4 110.9,503.0C110.9,500.6 110.1,496.9 109.9,495.7Z" fill="url(#gYel)"/>
<path d="M112.5,571.0C113.3,571.4 116.0,572.0 117.5,573.5C119.0,575.0 120.9,577.4 121.5,580.0C122.1,582.6 121.8,586.2 121.0,589.0C120.2,591.8 118.2,594.8 116.5,597.0C114.8,599.2 111.9,601.2 111.0,602.0C110.5,601.3 107.7,599.5 108.0,598.0C108.3,596.5 111.5,594.9 113.0,593.0C114.5,591.1 116.5,588.8 117.2,586.5C118.0,584.2 117.8,581.5 117.5,579.5C117.2,577.5 116.3,575.9 115.5,574.5C114.7,573.1 113.0,571.6 112.5,571.0Z" fill="#f9a21a"/>
<path d="M125.3,534.0C125.7,535.8 126.5,541.5 127.5,545.0C128.5,548.5 129.4,551.9 131.2,555.3C133.0,558.7 136.1,562.2 138.5,565.6C140.9,569.0 143.8,572.5 145.9,575.9C148.0,579.3 149.9,582.8 151.0,586.2C152.1,589.6 152.6,593.2 152.5,596.5C152.4,599.8 151.4,603.2 150.2,606.2C148.9,609.2 146.7,612.0 145.0,614.4C143.3,616.8 141.6,618.7 139.9,620.6C138.2,622.5 136.6,623.8 134.7,625.7C132.8,627.6 129.9,630.3 128.5,631.9C127.0,633.5 126.4,634.7 126.0,635.2C129.0,633.7 141.0,627.8 144.0,626.3C143.1,627.1 140.5,628.8 138.8,630.9C137.1,633.0 135.1,636.5 133.7,639.1C132.3,641.7 131.6,644.1 130.6,646.3C129.6,648.5 129.2,650.4 127.5,652.5C125.8,654.6 121.5,657.7 120.3,658.7C119.8,656.9 117.8,651.8 117.0,648.0C116.2,644.2 115.5,639.7 115.5,636.0C115.5,632.3 116.6,627.7 116.8,626.0C117.1,624.7 117.6,620.5 118.5,618.0C119.4,615.5 120.5,613.8 122.4,611.2C124.3,608.6 127.7,605.4 129.7,602.4C131.6,599.4 133.4,596.5 134.1,593.5C134.8,590.5 134.8,587.9 134.1,584.7C133.4,581.5 131.3,577.8 129.7,574.4C128.1,571.0 125.9,567.5 124.6,564.1C123.2,560.7 122.1,557.2 121.6,553.8C121.1,550.4 121.0,546.8 121.6,543.5C122.2,540.2 124.7,535.6 125.3,534.0Z" fill="url(#gSec)"/>
</g>
<text x="824.6" y="662" font-size="13.4" font-style="italic" fill="#222" textLength="97" lengthAdjust="spacingAndGlyphs">Forrás: KSH / OKF /</text>
<text x="923.7" y="662" font-size="13.4" font-weight="700" fill="#111" textLength="91" lengthAdjust="spacingAndGlyphs">Nemzeti Archívum</text>
<text x="1018.2" y="662" font-size="13.4" fill="#222">/</text>
<text x="1024.5" y="662" font-size="13.4" font-weight="700" fill="#111" textLength="18" lengthAdjust="spacingAndGlyphs">MTI</text>
<rect x="1053.8" y="647.7" width="2.4" height="20.1" fill="#111"/>
<rect x="1107.8" y="647.7" width="2.4" height="20.1" fill="#111"/>
<rect x="1157.3" y="647.7" width="2.4" height="20.1" fill="#111"/>
<g><circle cx="1082.3" cy="657.6" r="14.1" fill="#fff" stroke="#4d2c68" stroke-width="1.4"/><circle cx="1082.3" cy="657.6" r="11" fill="#fff" stroke="#111" stroke-width="1.8"/><rect x="1067.7" y="657" width="3.4" height="1.1" fill="#4d2c68"/><text x="1075.2" y="659.6" font-size="6" font-weight="700" fill="#111" stroke="#111" stroke-width="0.3" textLength="14.2" lengthAdjust="spacingAndGlyphs">MTVA</text></g>
<g><circle cx="1133.8" cy="657.6" r="10.9" fill="#fff" stroke="#111" stroke-width="1.8"/><path d="M1129.6,668.2 A11,11 0 0 0 1135.5,668.4" fill="none" stroke="#1f5a2e" stroke-width="1.6"/><circle cx="1133.8" cy="657.6" r="8.1" fill="none" stroke="#e4566b" stroke-width="1.1"/><path d="M1128.4,663.9 A8.2,8.2 0 0 0 1135.8,665.6" fill="none" stroke="#dc2a44" stroke-width="1.6"/><path d="M1136.5,649.9 A8.2,8.2 0 0 1 1140.3,652.6" fill="none" stroke="#dc2a44" stroke-width="1.5"/><text x="1129.3" y="659.6" font-size="6" font-weight="700" fill="#111" stroke="#111" stroke-width="0.3" textLength="9" lengthAdjust="spacingAndGlyphs">MTI</text></g>
<text x="1172.4" y="661.8" font-size="12.8" font-style="italic" fill="#222" textLength="54.2" lengthAdjust="spacingAndGlyphs">www.mti.hu</text>
</svg>
</body>
</html>
